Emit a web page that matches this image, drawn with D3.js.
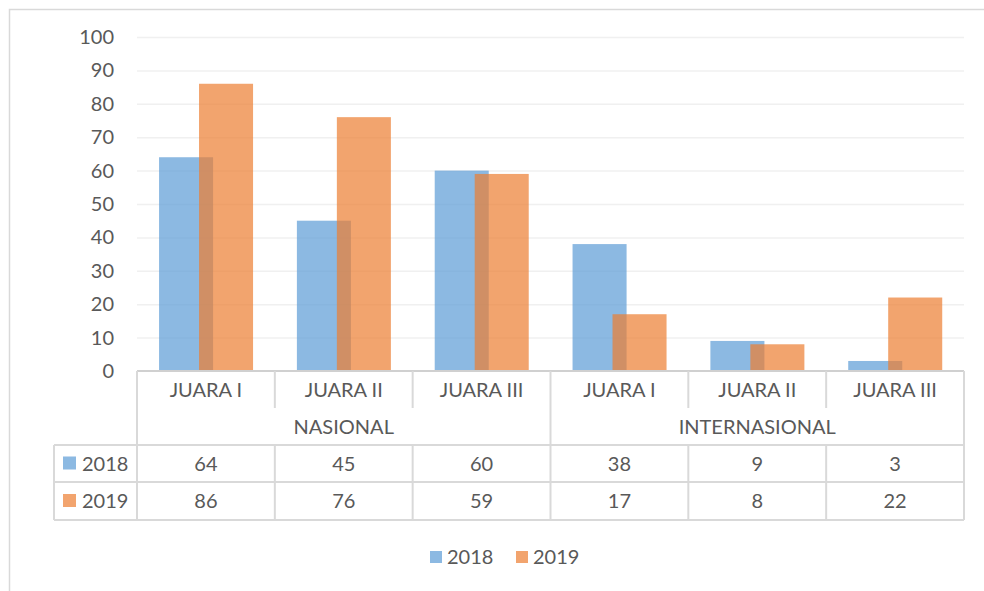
<!DOCTYPE html>
<html>
<head>
<meta charset="utf-8">
<script src="https://cdn.jsdelivr.net/npm/d3@7"></script>
<style>
  body { margin: 0; background: #fff; }
  svg { display: block; }
  text { font-family: Lato, "Open Sans", sans-serif; fill: #595959; }
</style>
</head>
<body>
<svg id="chart"></svg>
<script>
var categories = ["JUARA I", "JUARA II", "JUARA III", "JUARA I", "JUARA II", "JUARA III"];
var groups = ["NASIONAL", "INTERNASIONAL"];
var series = ["2018", "2019"];
var values2018 = [64, 45, 60, 38, 9, 3];
var values2019 = [86, 76, 59, 17, 8, 22];
var yTicks = [0, 10, 20, 30, 40, 50, 60, 70, 80, 90, 100];
var colors = ["#5B9BD5", "#ED7D31"];

var W = 984, H = 591, fs = 20;
var svg = d3.select("#chart").attr("width", W).attr("height", H);

// outer frame
svg.append("rect").attr("x", 9.5).attr("y", 9.5).attr("width", W).attr("height", H)
  .attr("fill", "none").attr("stroke", "#D9D9D9").attr("stroke-width", 1.5);

var plotL = 137, plotR = 964, plotT = 37, plotB = 371;

var x = d3.scaleBand().domain(d3.range(categories.length)).range([plotL, plotR]);
var y = d3.scaleLinear().domain([0, 100]).range([plotB, plotT]);

// gridlines
svg.append("g").selectAll("line").data(yTicks.slice(1)).enter().append("line")
  .attr("x1", plotL).attr("x2", plotR)
  .attr("y1", function(d) { return y(d) + 0.5; }).attr("y2", function(d) { return y(d) + 0.5; })
  .attr("stroke", "#F0F0F0").attr("stroke-width", 1.5);

// y axis labels
svg.append("g").selectAll("text").data(yTicks).enter().append("text")
  .attr("x", 114).attr("y", function(d) { return y(d); })
  .attr("dy", "0.35em").attr("text-anchor", "end").attr("font-size", fs)
  .text(function(d) { return d; });

// bars: 2018 behind, 2019 on top, overlapping
var bw = x.bandwidth();
var barW = bw * 0.392, off1 = bw * 0.16, off2 = bw * 0.45;
var data = [values2018, values2019];
data.forEach(function(vals, si) {
  svg.append("g").selectAll("rect").data(vals).enter().append("rect")
    .attr("x", function(d, i) { return x(i) + (si === 0 ? off1 : off2); })
    .attr("width", barW)
    .attr("y", function(d) { return y(d); })
    .attr("height", function(d) { return plotB - y(d); })
    .attr("fill", colors[si]).attr("fill-opacity", 0.7);
});

// data table
var lc = "#D9D9D9";
var rowCat = 371, rowGrp = 408, row1 = 445, row2 = 482, rowEnd = 520, tableLeft = 54;
var t = svg.append("g").attr("stroke", lc).attr("stroke-width", 2);
t.append("line").attr("x1", plotL).attr("x2", plotR).attr("y1", rowCat).attr("y2", rowCat).attr("stroke", "#D0D0D0");
[row1, row2, rowEnd].forEach(function(r) {
  t.append("line").attr("x1", tableLeft).attr("x2", plotR).attr("y1", r).attr("y2", r);
});
// vertical lines
t.append("line").attr("x1", plotL).attr("x2", plotL).attr("y1", rowCat).attr("y2", rowEnd);
t.append("line").attr("x1", plotR).attr("x2", plotR).attr("y1", rowCat).attr("y2", rowEnd);
t.append("line").attr("x1", tableLeft).attr("x2", tableLeft).attr("y1", row1).attr("y2", rowEnd);
d3.range(1, categories.length).forEach(function(i) {
  var full = (i === 3);
  t.append("line").attr("x1", x(i)).attr("x2", x(i))
    .attr("y1", rowCat).attr("y2", full ? rowEnd : rowGrp);
  if (!full) t.append("line").attr("x1", x(i)).attr("x2", x(i)).attr("y1", row1).attr("y2", rowEnd);
});

svg.append("g").selectAll("text").data(categories).enter().append("text")
  .attr("x", function(d, i) { return x(i) + bw / 2; })
  .attr("y", (rowCat + rowGrp) / 2).attr("dy", "0.35em")
  .attr("text-anchor", "middle").attr("font-size", fs).text(function(d) { return d; });

svg.append("g").selectAll("text").data(groups).enter().append("text")
  .attr("x", function(d, i) { return x(i * 3) + bw * 1.5; })
  .attr("y", (rowGrp + row1) / 2).attr("dy", "0.35em")
  .attr("text-anchor", "middle").attr("font-size", fs).text(function(d) { return d; });

var rowsY = [row1, row2];
data.forEach(function(vals, si) {
  var cy = (rowsY[si] + (si === 0 ? row2 : rowEnd)) / 2;
  svg.append("g").selectAll("text").data(vals).enter().append("text")
    .attr("x", function(d, i) { return x(i) + bw / 2; })
    .attr("y", cy).attr("dy", "0.35em")
    .attr("text-anchor", "middle").attr("font-size", fs).text(function(d) { return d; });
  svg.append("rect").attr("x", 63).attr("y", cy - 7).attr("width", 13).attr("height", 13)
    .attr("fill", colors[si]).attr("fill-opacity", 0.7);
  svg.append("text").attr("x", 82).attr("y", cy).attr("dy", "0.35em")
    .attr("font-size", fs).text(series[si]);
});

// legend
var lg = svg.append("g").selectAll("g").data(series).enter().append("g")
  .attr("transform", function(d, i) { return "translate(" + (430 + i * 86) + ",557)"; });
lg.append("rect").attr("x", 0).attr("y", -6).attr("width", 12).attr("height", 12)
  .attr("fill", function(d, i) { return colors[i]; }).attr("fill-opacity", 0.7);
lg.append("text").attr("x", 17).attr("dy", "0.35em").attr("font-size", fs).text(function(d) { return d; });
</script>
</body>
</html>
